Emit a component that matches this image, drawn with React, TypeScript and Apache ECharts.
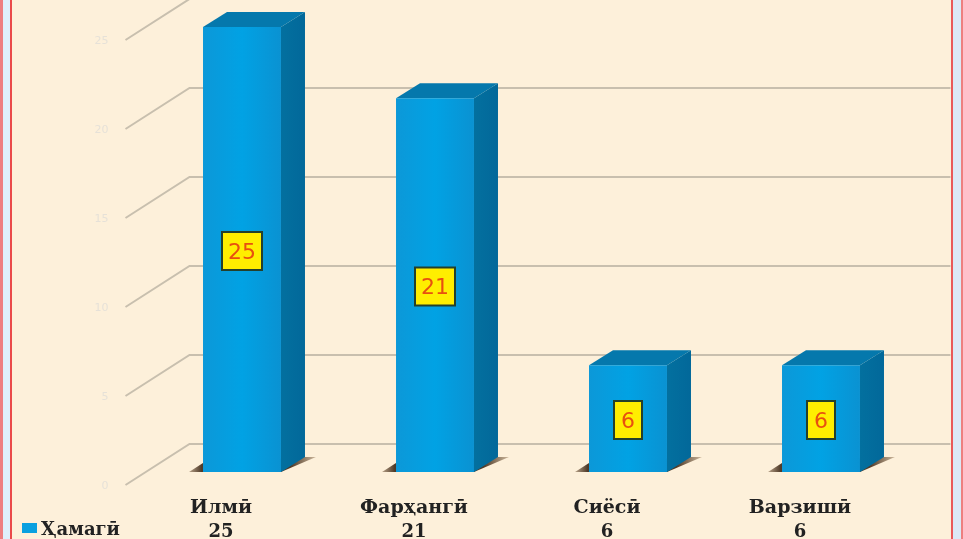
import React, { useEffect, useRef } from "react";
import * as echarts from "echarts";

const categories = ["Илмӣ", "Фарҳангӣ", "Сиёсӣ", "Варзишӣ"];
const values = [25, 21, 6, 6];
const ticks = [0, 5, 10, 15, 20, 25];
const seriesName = "Ҳамагӣ";

const W = 963;
const H = 539;
const SERIF = '"DejaVu Serif", serif';

export default function App() {
  const ref = useRef<HTMLDivElement>(null);
  useEffect(() => {
    const chart = echarts.init(ref.current!, null, { renderer: "svg", width: W, height: H });

    const renderBar = (params: any, api: any) => {
      const idx = api.value(0);
      const val = api.value(1);
      const c = api.coord([idx, val]);
      const base = api.coord([idx, 0]);
      const bw = api.size([1, 0])[0] * 0.404;
      const drop = 13;
      const dx = 24;
      const dy = -15;
      const x0 = c[0] - bw / 2;
      const x1 = c[0] + bw / 2;
      const yt = c[1] - drop;
      const yb = base[1] - drop;
      const labelText = String(val);
      return {
        type: "group",
        children: [
          {
            type: "polygon",
            shape: {
              points: [
                [x0 - 14, yb],
                [x0, yb - 9],
                [x1 + dx, yb + dy],
                [x1 + dx + 11, yb + dy],
                [x1, yb],
              ],
            },
            style: {
              fill: new echarts.graphic.LinearGradient(0, 0, 1, 0, [
                { offset: 0, color: "#b8a288" },
                { offset: 0.1, color: "#4f3a28" },
                { offset: 0.8, color: "#4f3a28" },
                { offset: 1, color: "#cdb89c" },
              ]),
            },
          },
          {
            type: "polygon",
            shape: {
              points: [
                [x1, yt],
                [x1 + dx, yt + dy],
                [x1 + dx, yb + dy],
                [x1, yb],
              ],
            },
            style: {
              fill: new echarts.graphic.LinearGradient(0, 0, 1, 0, [
                { offset: 0, color: "#03709f" },
                { offset: 1, color: "#02689a" },
              ]),
            },
          },
          {
            type: "polygon",
            shape: {
              points: [
                [x0, yt],
                [x0 + dx, yt + dy],
                [x1 + dx, yt + dy],
                [x1, yt],
              ],
            },
            style: { fill: "#0578ac" },
          },
          {
            type: "rect",
            shape: { x: x0, y: yt, width: bw, height: yb - yt },
            style: {
              fill: new echarts.graphic.LinearGradient(0, 0, 1, 0, [
                { offset: 0, color: "#0c98d8" },
                { offset: 0.5, color: "#01a2e4" },
                { offset: 1, color: "#0a92d2" },
              ]),
            },
          },
          {
            type: "text",
            x: c[0],
            y: (yt + yb) / 2 + 1.5,
            style: {
              text: labelText,
              align: "center",
              verticalAlign: "middle",
              font: '22px "DejaVu Sans"',
              fill: "#e8500f",
              backgroundColor: "#ffee00",
              borderColor: "#24402c",
              borderWidth: 2,
              borderRadius: 0,
              padding: [7, labelText.length > 1 ? 5 : 6],
            },
          },
        ],
      };
    };

    const boldLabel = { fontFamily: SERIF, fontWeight: "bold", fontSize: 19, color: "#222222" };

    chart.setOption({
      animation: false,
      backgroundColor: "#fdf0da",
      textStyle: { fontFamily: SERIF },
      grid: { left: 145.5, right: 45.5, top: 40, bottom: 54, containLabel: false },
      legend: {
        data: [seriesName],
        left: 22,
        top: 519,
        padding: 0,
        itemWidth: 15,
        itemHeight: 10,
        itemGap: 4,
        icon: "rect",
        textStyle: { ...boldLabel, fontSize: 18, padding: [0, 0, 0, -1] },
      },
      xAxis: [
        {
          type: "category",
          position: "bottom",
          data: categories,
          axisLine: { show: false },
          axisTick: { show: false },
          axisLabel: { ...boldLabel, margin: 11, padding: [0, 42, 0, 0] },
        },
        {
          type: "category",
          position: "bottom",
          data: values.map(String),
          axisLine: { show: false },
          axisTick: { show: false },
          axisLabel: { ...boldLabel, fontSize: 18, margin: 36, padding: [0, 42, 0, 0] },
        },
      ],
      yAxis: {
        type: "value",
        min: 0,
        max: 25,
        interval: 5,
        axisLine: { show: false },
        axisTick: { show: false },
        splitLine: { show: false },
        axisLabel: { margin: 37, fontFamily: '"DejaVu Sans"', fontSize: 11, color: "#e6e1d8" },
      },
      graphic: [
        { type: "rect", z: 100, shape: { x: 0, y: 0, width: 3, height: H }, style: { fill: "#ee7f80" } },
        { type: "rect", z: 100, shape: { x: 3, y: 0, width: 7, height: H }, style: { fill: "#dff0fb" } },
        { type: "rect", z: 100, shape: { x: 10, y: 0, width: 2, height: H }, style: { fill: "#ea4a4a" } },
        { type: "rect", z: 100, shape: { x: 951, y: 0, width: 2, height: H }, style: { fill: "#ea5a5a" } },
        { type: "rect", z: 100, shape: { x: 953, y: 0, width: 8, height: H }, style: { fill: "#dce9f6" } },
        { type: "rect", z: 100, shape: { x: 961, y: 0, width: 2, height: H }, style: { fill: "#ee7f80" } },
      ],
      series: [
        {
          type: "custom",
          name: "wall",
          data: ticks.map((t) => [t]),
          encode: { y: 0 },
          renderItem: (params: any, api: any) => {
            const cs = params.coordSys;
            const y = api.coord([0, api.value(0)])[1];
            return {
              type: "polyline",
              shape: {
                points: [
                  [cs.x - 20, y],
                  [cs.x + 44, y - 41],
                  [cs.x + cs.width + 33, y - 41],
                ],
              },
              style: { stroke: "#c8bfae", lineWidth: 2, fill: "none" },
              silent: true,
            };
          },
          z: 1,
          silent: true,
        },
        {
          type: "custom",
          name: seriesName,
          itemStyle: { color: "#0aa0e0" },
          data: values.map((v, i) => [i, v]),
          encode: { x: 0, y: 1 },
          renderItem: renderBar,
          z: 2,
          silent: true,
        },
      ],
    });
    return () => chart.dispose();
  }, []);

  return (
    <div
      ref={ref}
      style={{ position: "fixed", left: 0, top: 0, width: W, height: H, filter: "blur(0.6px)" }}
    />
  );
}
